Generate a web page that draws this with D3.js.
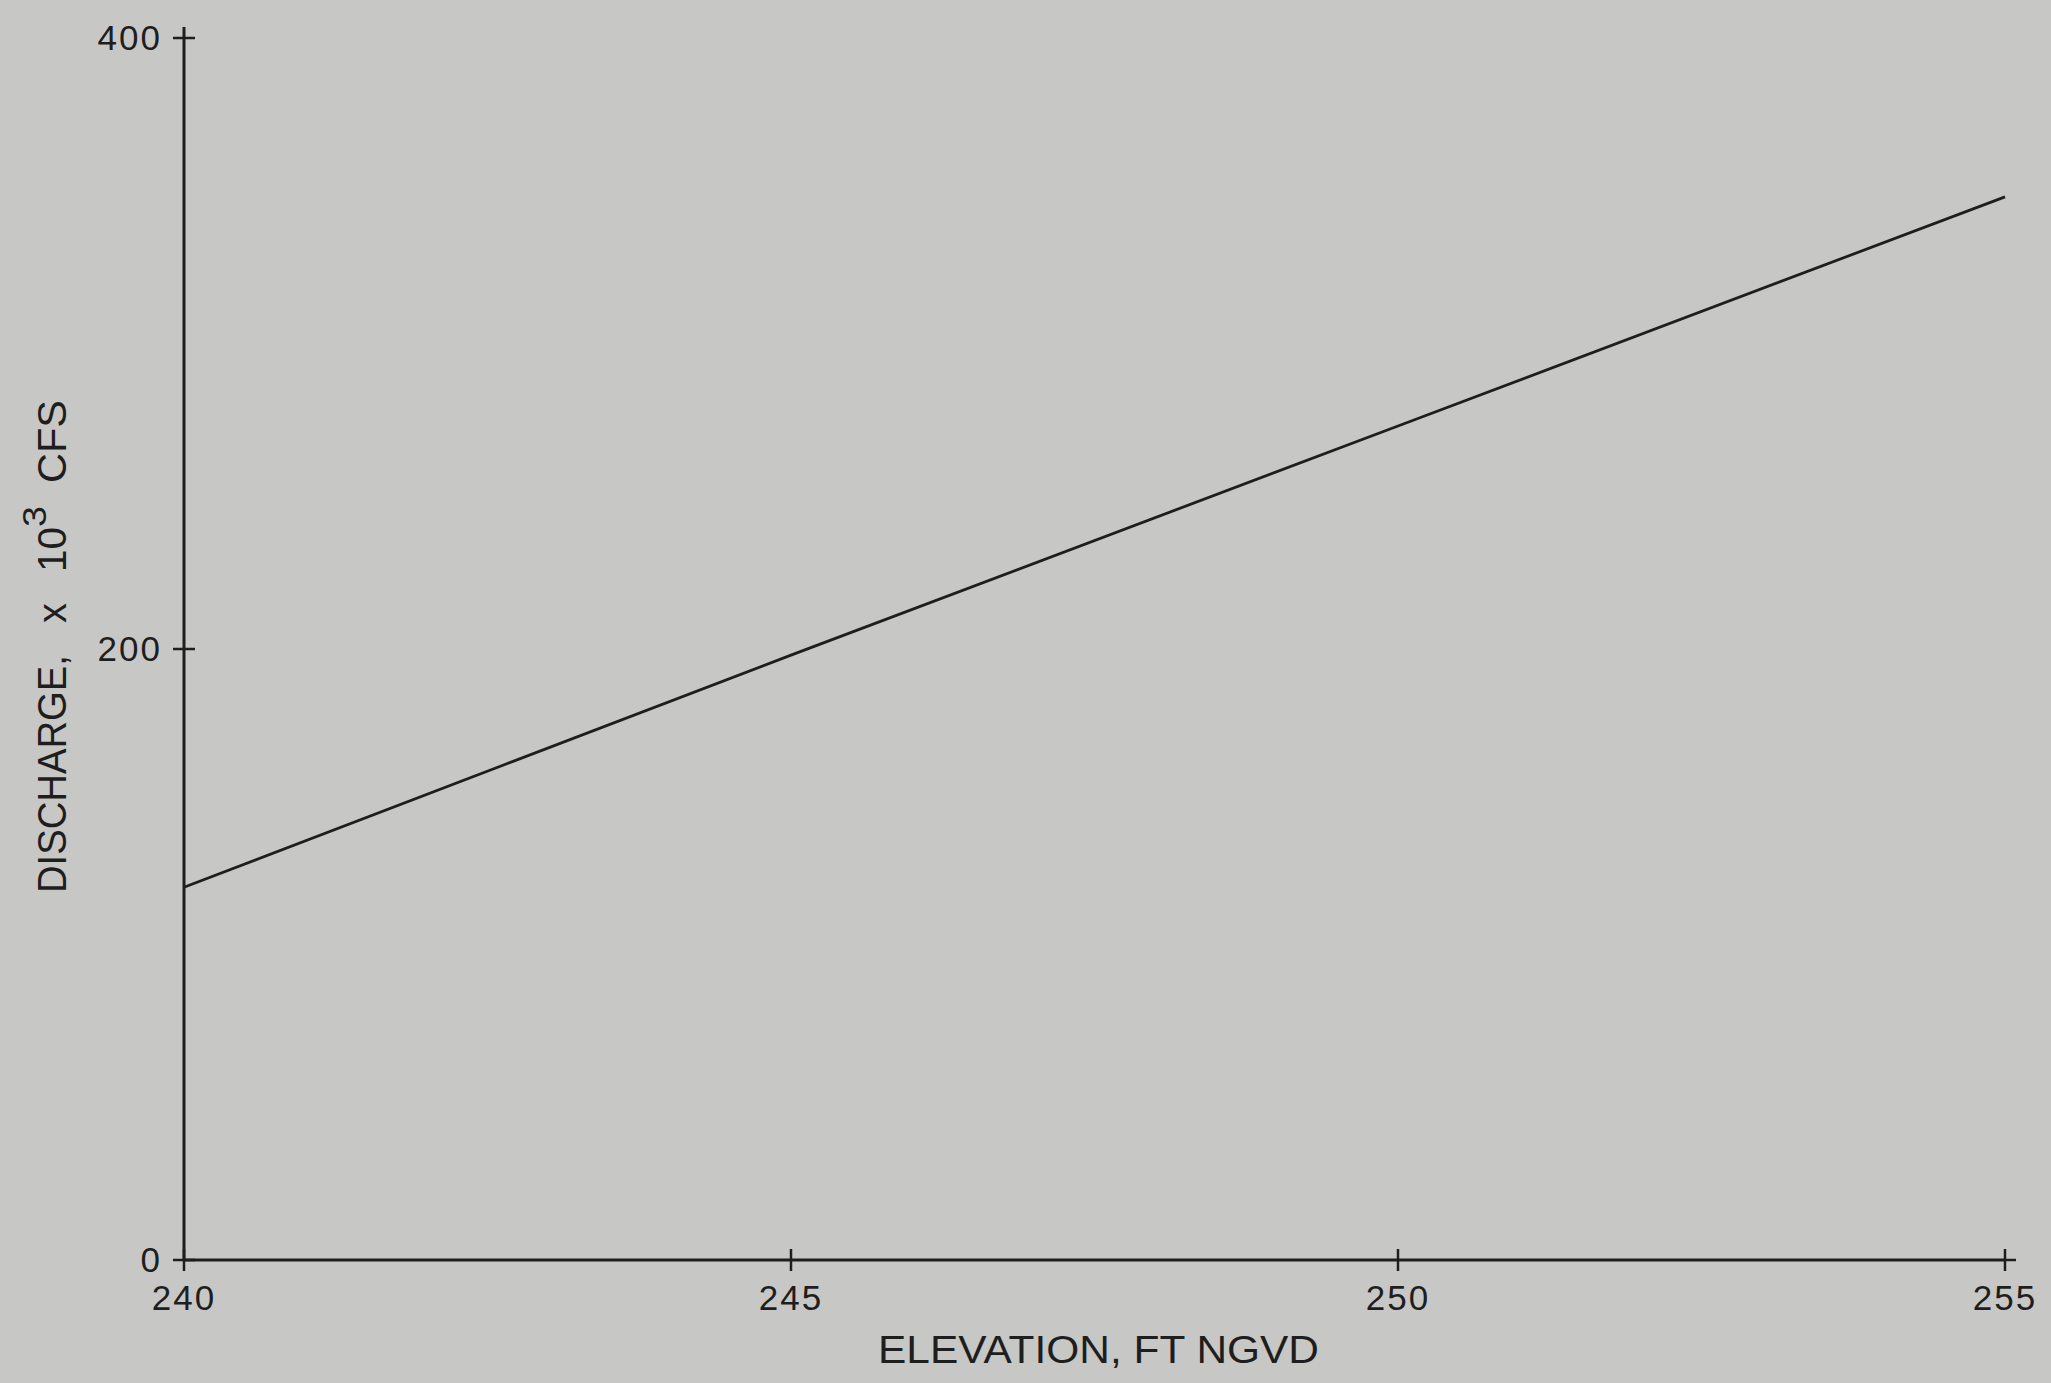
<!DOCTYPE html>
<html><head><meta charset="utf-8">
<script src="https://cdn.jsdelivr.net/npm/d3@7"></script>
<style>
html,body{margin:0;padding:0;background:#c7c8c6;}
svg{display:block;}
text{font-family:"Liberation Sans",Arial,sans-serif;fill:#1e1e1e;}
</style></head><body>
<script>
const elevation = [240, 245, 250, 255];
const discharge = [122, 198, 273, 348];
const xTicks = [240, 245, 250, 255];
const yTicks = [0, 200, 400];
const xTitle = "ELEVATION, FT NGVD";
const yTitleParts = ["DISCHARGE,", "x", "10", "3", "CFS"];

const W = 2051, H = 1383;
const svg = d3.select("body").append("svg").attr("width", W).attr("height", H);
svg.append("rect").attr("width", W).attr("height", H).attr("fill", "#c7c8c6");

const x = d3.scaleLinear().domain([240, 255]).range([184, 2005]);
const y = d3.scaleLinear().domain([0, 400]).range([1260, 38]);
const ink = "#1e1e1e";
const T = 11;

// axes lines
svg.append("line").attr("x1", x(240)).attr("x2", x(255)).attr("y1", y(0)).attr("y2", y(0))
  .attr("stroke", ink).attr("stroke-width", 3);
svg.append("line").attr("x1", x(240)).attr("x2", x(240)).attr("y1", y(0)).attr("y2", y(400) - T)
  .attr("stroke", ink).attr("stroke-width", 3);

// x ticks (crosses)
const gx = svg.append("g");
xTicks.forEach(v => {
  gx.append("line").attr("x1", x(v)).attr("x2", x(v)).attr("y1", y(0) - T).attr("y2", y(0) + T)
    .attr("stroke", ink).attr("stroke-width", 2.5);
  if (v === 255) gx.append("line").attr("x1", x(v)).attr("x2", x(v) + T).attr("y1", y(0)).attr("y2", y(0))
    .attr("stroke", ink).attr("stroke-width", 2.5);
  gx.append("text").attr("x", x(v)).attr("y", 1310).attr("text-anchor", "middle")
    .attr("font-size", 35).attr("letter-spacing", 2).text(v);
});
// y ticks
const gy = svg.append("g");
yTicks.forEach(v => {
  gy.append("line").attr("x1", x(240) - T).attr("x2", x(240) + T).attr("y1", y(v)).attr("y2", y(v))
    .attr("stroke", ink).attr("stroke-width", 2.5);
  gy.append("text").attr("x", 162).attr("y", y(v) + 12).attr("text-anchor", "end")
    .attr("font-size", 35).attr("letter-spacing", 2).text(v);
});

// data line
const line = d3.line().x((d, i) => x(elevation[i])).y(d => y(d));
svg.append("path").attr("d", line(discharge)).attr("fill", "none")
  .attr("stroke", ink).attr("stroke-width", 2.8);

// x title
svg.append("text").attr("x", 878).attr("y", 1363)
  .attr("font-size", 39).attr("textLength", 441).attr("lengthAdjust", "spacingAndGlyphs").text(xTitle);

// y title (rotated pieces)
const yg = svg.append("g").attr("transform", "translate(66,0) rotate(-90)");
const yPos = [[-893, 238, 0], [-623, 20, 0], [-572, 45, 0], [-527, 21, -20], [-483, 83, 0]];
yTitleParts.forEach((t, i) => {
  yg.append("text").attr("x", yPos[i][0]).attr("y", yPos[i][2])
    .attr("font-size", i === 3 ? 33 : 41)
    .attr("textLength", yPos[i][1]).attr("lengthAdjust", "spacingAndGlyphs").text(t);
});
</script>
</body></html>
